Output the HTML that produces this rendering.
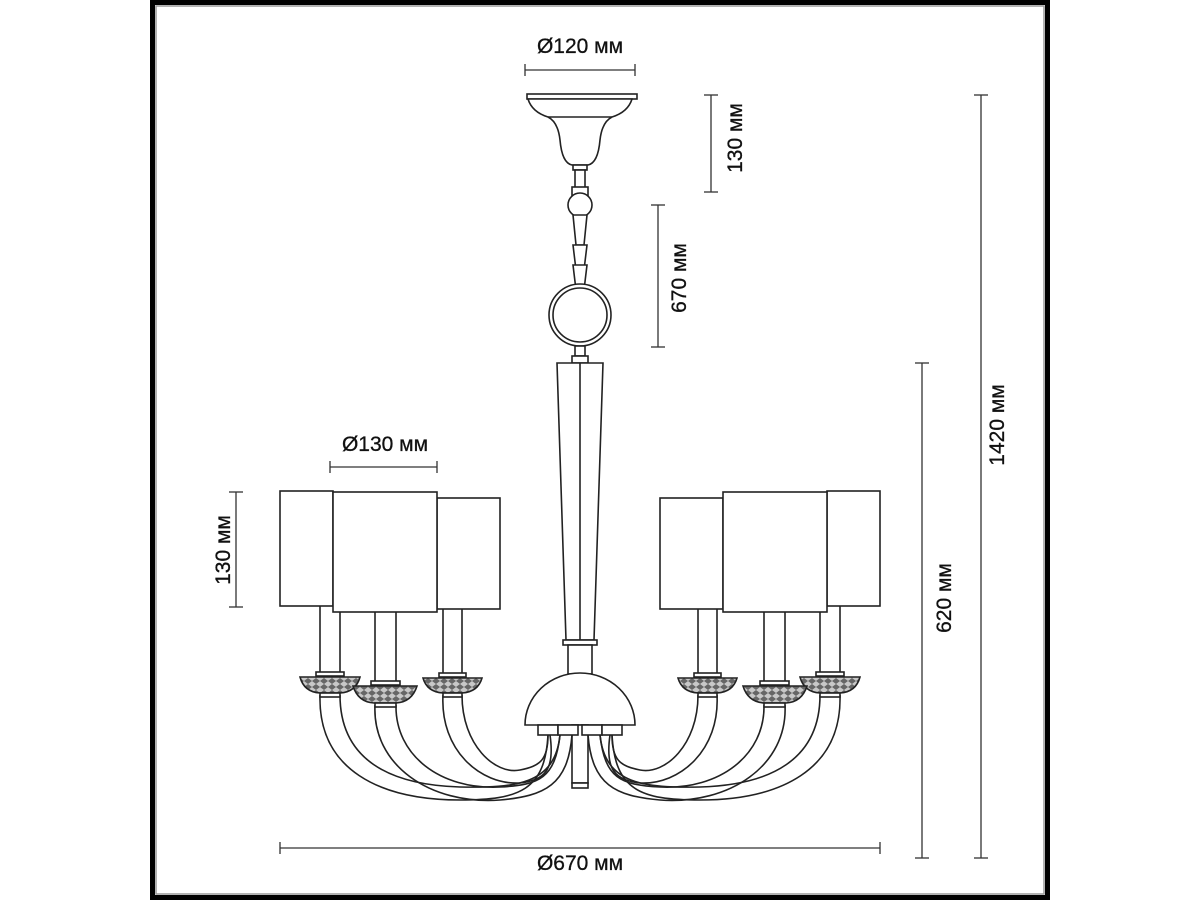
<!DOCTYPE html>
<html><head><meta charset="utf-8"><style>
html,body{margin:0;padding:0;background:#fff;}
svg{display:block;}
text{font-family:"Liberation Sans",sans-serif;font-size:21px;fill:#111;stroke:#111;stroke-width:0.3;}
</style></head><body>
<svg width="1200" height="900" viewBox="0 0 1200 900" xmlns="http://www.w3.org/2000/svg">
<defs>
<pattern id="hatch" width="8" height="6" patternUnits="userSpaceOnUse">
<rect width="8" height="6" fill="#c8c8c8"/>
<path d="M0 3 L4 0 L8 3 L4 6 Z" fill="#666"/>
</pattern>
</defs>
<rect x="0" y="0" width="1200" height="900" fill="#fff"/>
<rect x="152.5" y="2.5" width="895" height="895" fill="none" stroke="#000" stroke-width="5"/>
<rect x="156" y="6" width="888" height="888" fill="none" stroke="#999" stroke-width="1.5"/>

<g fill="none" stroke="#333" stroke-width="1.3">
<line x1="525" y1="70" x2="635" y2="70"/><line x1="525" y1="64" x2="525" y2="76"/><line x1="635" y1="64" x2="635" y2="76"/>
<line x1="711" y1="95" x2="711" y2="192"/><line x1="704" y1="95" x2="718" y2="95"/><line x1="704" y1="192" x2="718" y2="192"/>
<line x1="658" y1="205" x2="658" y2="347"/><line x1="651" y1="205" x2="665" y2="205"/><line x1="651" y1="347" x2="665" y2="347"/>
<line x1="922" y1="363" x2="922" y2="858"/><line x1="915" y1="363" x2="929" y2="363"/><line x1="915" y1="858" x2="929" y2="858"/>
<line x1="981" y1="95" x2="981" y2="858"/><line x1="974" y1="95" x2="988" y2="95"/><line x1="974" y1="858" x2="988" y2="858"/>
<line x1="330" y1="467" x2="437" y2="467"/><line x1="330" y1="461" x2="330" y2="473"/><line x1="437" y1="461" x2="437" y2="473"/>
<line x1="236" y1="492" x2="236" y2="607"/><line x1="229" y1="492" x2="243" y2="492"/><line x1="229" y1="607" x2="243" y2="607"/>
<line x1="280" y1="848" x2="880" y2="848"/><line x1="280" y1="842" x2="280" y2="854"/><line x1="880" y1="842" x2="880" y2="854"/>
</g>
<text x="580" y="53" text-anchor="middle">Ø120 мм</text>
<text x="385" y="451" text-anchor="middle">Ø130 мм</text>
<text x="580" y="870" text-anchor="middle">Ø670 мм</text>
<text transform="translate(742,138) rotate(-90)" text-anchor="middle">130 мм</text>
<text transform="translate(686,278) rotate(-90)" text-anchor="middle">670 мм</text>
<text transform="translate(230,550) rotate(-90)" text-anchor="middle">130 мм</text>
<text transform="translate(951,598) rotate(-90)" text-anchor="middle">620 мм</text>
<text transform="translate(1004,425) rotate(-90)" text-anchor="middle">1420 мм</text>

<g fill="#fff" stroke="#222" stroke-width="1.6">
<rect x="527" y="94" width="110" height="5"/>
<path d="M528 99 Q532 112 548 117 Q558 122 560 140 Q562 163 572 165 L588 165 Q598 163 600 140 Q602 122 612 117 Q628 112 632 99 Z"/>
<line x1="548" y1="117" x2="612" y2="117"/>
<rect x="573" y="165" width="14" height="5"/>
<rect x="575" y="170" width="10" height="18"/>
<rect x="572" y="187" width="16" height="10"/>
<circle cx="580" cy="205" r="12"/>
<path d="M573 215 L576 245 L584 245 L587 215 Z"/>
<path d="M573 245 L576 270 L584 270 L587 245 Z"/>
<path d="M573 265 L576 290 L584 290 L587 265 Z"/>
<circle cx="580" cy="315" r="31"/>
<circle cx="580" cy="315" r="27"/>
<rect x="575" y="346" width="10" height="10"/>
<rect x="572" y="356" width="16" height="7"/>
<path d="M557 363 L603 363 L594 640 L566 640 Z"/>
<line x1="580" y1="363" x2="580" y2="640"/>
<rect x="563" y="640" width="34" height="5"/>
<rect x="568" y="645" width="24" height="29"/>
<path d="M525 725 A55 52 0 0 1 635 725 Z"/>
<rect x="572" y="725" width="16" height="58"/>
<rect x="572" y="783" width="16" height="5"/>
</g>

<g fill="none" stroke="#222" stroke-width="1.6">
<g id="armsL">
<path d="M320 695 C318 770 380 800 460 800 C520 800 545 790 548 735"/>
<path d="M340 695 C340 760 390 785 460 787 C515 788 555 785 560 735"/>
<path d="M375 705 C372 765 430 805 500 800 C545 796 568 785 572 735"/>
<path d="M396 705 C395 755 440 790 500 787 C540 785 555 778 560 735"/>
<path d="M443 695 C440 750 480 785 520 783 C545 780 555 770 550 735"/>
<path d="M462 695 C462 745 495 775 520 770 C540 766 548 760 548 735"/>
</g>
<use href="#armsL" transform="translate(1160,0) scale(-1,1)"/>
</g>

<g fill="#fff" stroke="#222" stroke-width="1.6">
<rect x="538" y="725" width="20" height="10"/>
<rect x="558" y="725" width="20" height="10"/>
<rect x="582" y="725" width="20" height="10"/>
<rect x="602" y="725" width="20" height="10"/>
</g>

<g id="lampsL" stroke="#222" stroke-width="1.6">
<rect x="320" y="600" width="20" height="75" fill="#fff"/>
<rect x="375" y="605" width="21" height="78" fill="#fff"/>
<rect x="443" y="605" width="19" height="70" fill="#fff"/>
<rect x="316" y="672" width="28" height="4" fill="#fff"/>
<path d="M300 677 L360 677 Q356 692 340 693 L320 693 Q304 692 300 677 Z" fill="url(#hatch)"/>
<rect x="320" y="693" width="20" height="4" fill="#fff"/>
<rect x="371" y="681" width="29" height="4" fill="#fff"/>
<path d="M353 686 L417 686 Q412 702 396 703 L374 703 Q358 702 353 686 Z" fill="url(#hatch)"/>
<rect x="375" y="703" width="21" height="4" fill="#fff"/>
<rect x="439" y="673" width="27" height="4" fill="#fff"/>
<path d="M423 678 L482 678 Q478 692 462 693 L443 693 Q427 692 423 678 Z" fill="url(#hatch)"/>
<rect x="443" y="693" width="19" height="4" fill="#fff"/>
<rect x="280" y="491" width="53" height="115" fill="#fff"/>
<rect x="437" y="498" width="63" height="111" fill="#fff"/>
<rect x="333" y="492" width="104" height="120" fill="#fff"/>
</g>
<use href="#lampsL" transform="translate(1160,0) scale(-1,1)"/>
</svg>
</body></html>
